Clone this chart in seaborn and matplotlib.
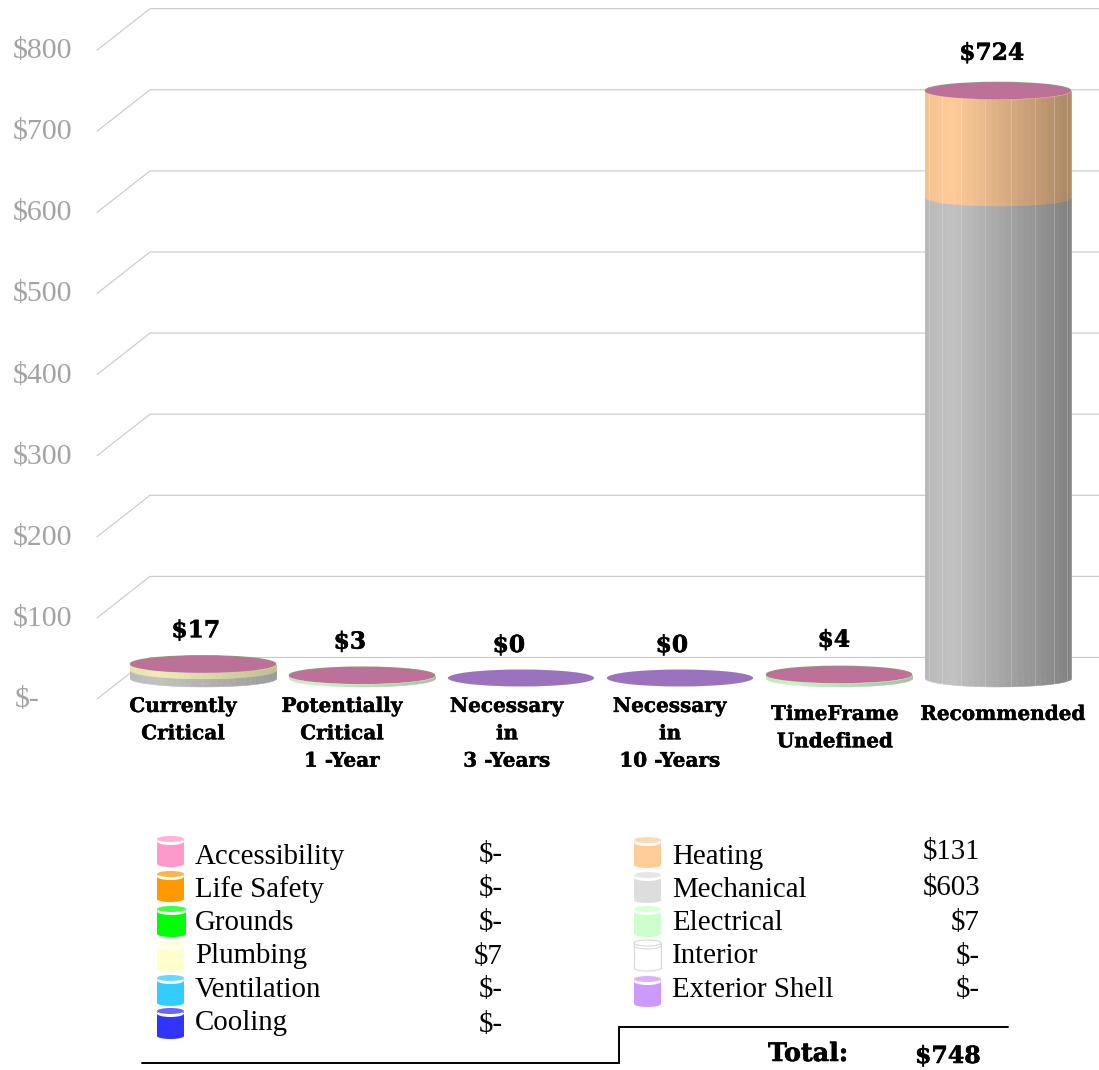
import numpy as np
import matplotlib
matplotlib.use("Agg")
import matplotlib.pyplot as plt
import matplotlib.patheffects as pe
from matplotlib.patches import Ellipse, Rectangle
from matplotlib.transforms import ScaledTranslation
from matplotlib.colors import to_rgb
import seaborn as sns

# ---------- data ----------
categories = ["Currently Critical", "Potentially Critical 1-Year", "Necessary in 3-Years",
              "Necessary in 10-Years", "TimeFrame Undefined", "Recommended"]
tick_labels = ["Currently\nCritical", "Potentially\nCritical\n1 -Year", "Necessary\nin\n3 -Years",
               "Necessary\nin\n10 -Years", "TimeFrame\nUndefined", "Recommended"]
electrical = [0, 3, 0, 0, 4, 0]
mechanical = [10, 0, 0, 0, 0, 593]
heating = [0, 0, 0, 0, 0, 131]
plumbing = [7, 0, 0, 0, 0, 0]
totals = [17, 3, 0, 0, 4, 724]
y_values = [0, 100, 200, 300, 400, 500, 600, 700, 800]
y_labels = ["$-", "$100", "$200", "$300", "$400", "$500", "$600", "$700", "$800"]
legend_left = ["Accessibility", "Life Safety", "Grounds", "Plumbing", "Ventilation", "Cooling"]
values_left = ["$-", "$-", "$-", "$7", "$-", "$-"]
legend_right = ["Heating", "Mechanical", "Electrical", "Interior", "Exterior Shell"]
values_right = ["$131", "$603", "$7", "$-", "$-"]
total_label = "Total:"
total_value = "$748"

# ---------- style ----------
colors_left = ["#FF99CC", "#FF9900", "#00FF00", "#FFFFCC", "#33CCFF", "#3333FF"]
colors_right = ["#FFCC99", "#DDDDDD", "#CCFFCC", "#FFFFFF", "#CC99FF"]
layers = [(electrical, "#C4F5C4"), (mechanical, "#C2C2C2"), (heating, "#FFCC99"), (plumbing, "#F0EEB4")]
SERIF = "Liberation Serif"
BOLD = "DejaVu Serif"
HEAVY = [pe.withStroke(linewidth=0.4, foreground="black")]
sns.set_theme(style="white")
plt.rcParams["font.family"] = [SERIF, "DejaVu Serif"]

W, H = 1099, 1070
fig = plt.figure(figsize=(W / 100, H / 100), dpi=100, facecolor="white")
PX = 0.811              # pixels per dollar
X0, DX = 203.0, 159.0   # pixel centre of first bar, spacing
Y0 = 678.0              # pixel centre of a bar's base
AX_L, AX_B = 97, 699
ax = fig.add_axes([AX_L / W, (H - AX_B) / H, (W - AX_L) / W, AX_B / H])
ax.set_facecolor("none")
HW = 0.46               # half-width of a cylinder, category units
EH = 8.5 / PX           # half-height of its ellipse, dollars
px2x = lambda p: (p - X0) / DX

# stacked bars through seaborn
bottom = np.zeros(len(categories))
for vals, col in layers:
    sns.barplot(x=categories, y=vals, bottom=bottom, color=col, saturation=1,
                width=2 * HW, ax=ax, zorder=2, linewidth=0)
    bottom = bottom + np.array(vals)

ax.set_xlim(px2x(AX_L), px2x(W))
ax.set_ylim((Y0 - AX_B) / PX, Y0 / PX)
for s in ax.spines.values():
    s.set_visible(False)

# depth gridlines (floor and back wall)
BACK, FRONT = 25.3, -25.9
for v in y_values:
    ax.plot([px2x(97), px2x(150), px2x(W)], [v + FRONT, v + BACK, v + BACK],
            color="#C8C8C8", lw=0.8, zorder=1, clip_on=False)

# cylinder shading
thetas = np.linspace(np.pi, 0, 37)
us = np.cos(thetas)
def shade(t, low):
    return np.interp(t, [0, 0.18, 1], [0.95, 1.0, low])
for i in range(len(categories)):
    b = 0.0
    for vals, col in layers:
        h = vals[i]
        if h > 0:
            rgb = np.array(to_rgb(col))
            low = 0.66 if h > 30 else 0.8
            for k in range(len(us) - 1):
                u = np.array([us[k], us[k + 1]])
                curve = EH * np.sqrt(np.clip(1 - u ** 2, 0, 1))
                c = tuple(rgb * shade((u.mean() + 1) / 2, low))
                ax.fill_between(i + HW * u, b - curve, b + h - curve, color=c, lw=0.3, zorder=3)
                if k % 4 == 3 and h > 30:
                    ax.plot([i + HW * u[1]] * 2, [b - curve[1], b + h - curve[1]],
                            color="white", alpha=0.22, lw=0.7, zorder=3.1)
        b += h
    # top ellipse
    if totals[i] > 0:
        ax.add_patch(Ellipse((i, totals[i] + 0.8), 2 * HW, 2 * EH, fc="#8FA070", ec="none", zorder=4))
        ax.add_patch(Ellipse((i, totals[i]), 2 * HW, 2 * EH, fc="#BE7198", ec="none", zorder=5))
    else:
        ax.add_patch(Ellipse((i, 0), 2 * HW, 2 * EH, fc="#9B72BE", ec="none", zorder=5))

# value labels
label_dx = [-7, -12, -12, -8, -5, -6]
label_dy = [33, 33, 32, 32, 34, 37]
for i, t in enumerate(totals):
    ax.annotate(f"${t}", (i, t), xytext=(label_dx[i] * 0.72, label_dy[i] * 0.72), textcoords="offset points",
                ha="center", va="center", family=BOLD, weight="bold", fontsize=16.8, color="black",
                annotation_clip=False, zorder=6, path_effects=HEAVY)

# axis ticks
ax.set_yticks([v - 23.4 for v in y_values], y_labels)
ax.tick_params(axis="y", length=0, pad=18, labelcolor="#A3A3A3", labelsize=21.5)
zero_lab = ax.get_yticklabels()[0]
zero_lab.set_transform(zero_lab.get_transform() + ScaledTranslation(-32 / 100, 0, fig.dpi_scale_trans))

tick_px = [183, 342, 507, 670, 835, 1003]
ax.set_xticks([px2x(p) for p in tick_px], tick_labels)
ax.tick_params(axis="x", length=0, pad=-2.2, labelsize=14.4, labelcolor="black")
for n, lab in enumerate(ax.get_xticklabels()):
    lab.set_family(BOLD)
    lab.set_weight("bold")
    lab.set_linespacing(1.46)
    lab.set_path_effects([pe.withStroke(linewidth=0.3, foreground="black")])
    if n >= 4:
        lab.set_transform(lab.get_transform() + ScaledTranslation(0, -8 / 100, fig.dpi_scale_trans))

# legend panel
lg = fig.add_axes([0, 0, 1, 1], facecolor="none")
lg.set_xlim(0, W)
lg.set_ylim(H, 0)
lg.axis("off")

def icon(x, y, col, w=27, h=31):
    rgb = np.array(to_rgb(col))
    light = tuple(rgb + (1 - rgb) * 0.25)
    ec = "#D8D8D8" if col == "#FFFFFF" else "none"
    cx = x + w / 2
    lg.add_patch(Ellipse((cx, y + h - 3), w, 6, fc=col, ec=ec, lw=0.8, zorder=2))
    lg.add_patch(Rectangle((x, y + 4), w, h - 7, fc=col, ec="none", zorder=2))
    if ec != "none":
        lg.plot([x, x], [y + 3, y + h - 3], color=ec, lw=0.8, zorder=3)
        lg.plot([x + w, x + w], [y + 3, y + h - 3], color=ec, lw=0.8, zorder=3)
    lg.add_patch(Ellipse((cx, y + 5.5), w, 7, fc="white", ec=ec, lw=0.8, zorder=3))
    lg.add_patch(Ellipse((cx, y + 3), w, 6, fc=light, ec=ec, lw=0.8, zorder=4))

TS = 20.8
row_text = [857, 890, 923, 956, 990, 1023]
row_val_l = [855, 889, 923, 957, 990, 1025]
row_icon = [836, 871, 906, 941, 975, 1008]
for j, name in enumerate(legend_left):
    icon(157, row_icon[j], colors_left[j], w=29 if name == "Grounds" else 27)
    lg.text(195, row_text[j], name, fontsize=TS, va="center", ha="left", color="black")
    lg.text(503, row_val_l[j], values_left[j], fontsize=TS, va="center", ha="right", color="black")
row_val_r = [852, 888, 923, 957, 990]
row_icon_r = [837, 872, 906, 940, 976]
for j, name in enumerate(legend_right):
    icon(634, row_icon_r[j], colors_right[j])
    lg.text(672, row_text[j], name, fontsize=TS, va="center", ha="left", color="black")
    lg.text(980, row_val_r[j], values_right[j], fontsize=TS, va="center", ha="right", color="black")

lg.plot([142, 619, 619, 1008], [1063, 1063, 1027, 1027], color="black", lw=1.4,
        solid_joinstyle="miter", zorder=2)
lg.text(808, 1054, total_label, family=BOLD, weight="bold", fontsize=18.3, ha="center", va="center",
        color="black", path_effects=HEAVY)
lg.text(948, 1056, total_value, family=BOLD, weight="bold", fontsize=17, ha="center", va="center",
        color="black", path_effects=HEAVY)

fig.savefig("out.png", dpi=100, facecolor="white")
